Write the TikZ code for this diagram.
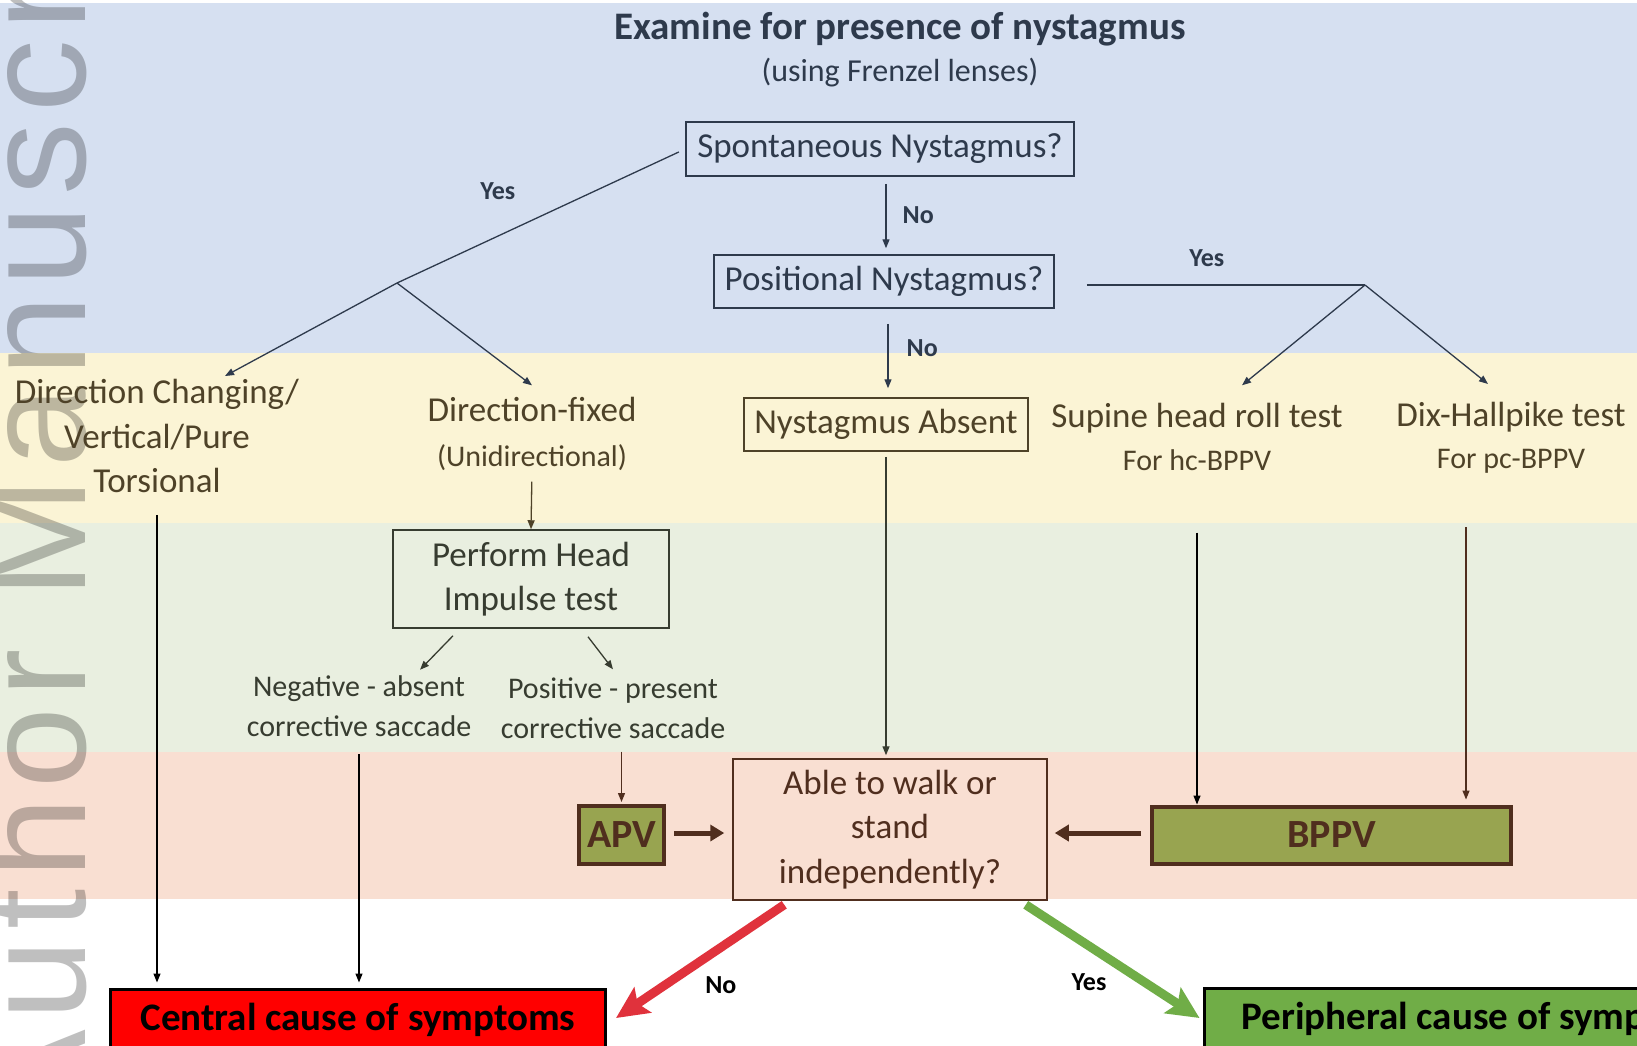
\documentclass[tikz,border=0pt]{standalone}
\usepackage{fontspec}
\setmainfont{Carlito}
\newfontfamily\wmfont[LetterSpace=7]{Liberation Sans}
\usetikzlibrary{arrows.meta}

\definecolor{bandblue}{RGB}{214,224,241}
\definecolor{bandyellow}{RGB}{251,244,213}
\definecolor{bandgreen}{RGB}{233,239,224}
\definecolor{bandpink}{RGB}{249,223,210}
\definecolor{slate}{RGB}{46,58,76}
\definecolor{umber}{RGB}{78,66,40}
\definecolor{moss}{RGB}{55,60,48}
\definecolor{darkbrown}{RGB}{80,46,30}
\definecolor{apvgreen}{RGB}{152,164,80}
\definecolor{stopred}{RGB}{224,50,60}
\definecolor{gogreen}{RGB}{112,173,71}

\begin{document}
\begin{tikzpicture}[x=1pt, y=1pt,
  lbl/.style={inner sep=0pt, align=center},
  big/.style={font=\fontsize{35}{44.5}\selectfont},
  sub/.style={font=\fontsize{30}{40}\selectfont},
  yn/.style={inner sep=0pt, font=\bfseries\fontsize{26}{30}\selectfont},
  qbox/.style={draw, line width=1.5pt, inner sep=0pt, align=center, big},
  dxbox/.style={draw=darkbrown, line width=4pt, fill=apvgreen, text=darkbrown, inner sep=0pt, font=\bfseries\fontsize{40}{48}\selectfont},
  endbox/.style={draw=black, line width=3pt, text=black, inner sep=0pt, font=\bfseries\fontsize{39}{47}\selectfont},
  arr/.style={line width=1.3pt, -{Triangle[length=9pt,width=7pt]}},
  fat/.style={darkbrown, line width=5pt, -{Triangle[length=14pt,width=16pt]}},
  verdict/.style={line width=9pt, -{Stealth[length=32pt,width=30pt,inset=6pt]}}
]
\useasboundingbox (0,0) rectangle (1637,-1045);
\clip (0,0) rectangle (1637,-1045);

\fill[white] (0,0) rectangle (1637,-1045);
\fill[bandblue] (0,-3) rectangle (1637,-353);
\fill[bandyellow] (0,-353) rectangle (1637,-523);
\fill[bandgreen] (0,-523) rectangle (1637,-752);
\fill[bandpink] (0,-752) rectangle (1637,-899);

\node[rotate=90, anchor=base west, inner sep=0pt, text=black, opacity=0.25, font=\wmfont\fontsize{145}{145}\selectfont] (wm) at (85,-1127) {Author Manuscript};

\node[lbl, text=slate, font=\bfseries\fontsize{39}{47}\selectfont] (title) at (900,-29) {Examine for presence of nystagmus};
\node[lbl, text=slate, font=\fontsize{32}{38}\selectfont] (subtitle) at (900,-73) {(using Frenzel lenses)};

\node[qbox, slate, minimum width=388pt, minimum height=54pt] (spont) at (880,-149) {\raisebox{-2pt}{Spontaneous Nystagmus?}};
\node[qbox, slate, minimum width=340pt, minimum height=53pt] (posit) at (884,-281.5) {Positional Nystagmus?};
\node[qbox, umber, minimum width=284pt, minimum height=53pt] (absent) at (886,-424.5) {Nystagmus Absent};

\node[lbl, big, text=umber] (dirchg) at (157,-436) {Direction Changing/\\Vertical/Pure\\Torsional};
\node[lbl, big, text=umber] (dirfix) at (532,-434) {Direction-fixed\\{\fontsize{30}{36}\selectfont (Unidirectional)}};
\node[lbl, big, text=umber] (supine) at (1197,-437) {Supine head roll test\\[-2pt]{\fontsize{30}{36}\selectfont For hc-BPPV}};
\node[lbl, big, text=umber] (dix) at (1511,-438) {Dix-Hallpike test\\[-2pt]{\fontsize{30}{36}\selectfont For pc-BPPV}};

\node[qbox, moss, minimum width=276pt, minimum height=98pt] (hit) at (531,-579) {Perform Head\\Impulse test};
\node[lbl, sub, text=moss] (neg) at (359,-706.5) {Negative - absent\\corrective saccade};
\node[lbl, sub, text=moss] (pos) at (613,-708) {Positive - present\\corrective saccade};

\node[dxbox, minimum width=85pt, minimum height=58pt] (apv) at (621.5,-835) {APV};
\node[qbox, draw=darkbrown, fill=bandpink, text=darkbrown, minimum width=314pt, minimum height=141pt] (able) at (890,-829.5) {Able to walk or\\stand\\independently?};
\node[dxbox, minimum width=359pt, minimum height=57pt] (bppv) at (1331.5,-835) {BPPV};

\node[endbox, fill=red, minimum width=495pt, minimum height=62pt] (central) at (358,-1020) {Central cause of symptoms};
\node[endbox, fill=gogreen, minimum width=560pt, minimum height=62pt] (periph) at (1484,-1019) {Peripheral cause of symptoms};

\coordinate (splitL) at (397,-283);
\coordinate (splitR) at (1365,-285);

\path[line width=1.3pt, slate] (spont.west) edge[shorten <=7pt] node[yn, pos=0.65, above=36pt] {Yes} (splitL);
\path[arr, slate] (splitL) edge ([xshift=68pt,yshift=3pt]dirchg.north);
\path[arr, slate] (splitL) edge ([yshift=12pt]dirfix.north);
\path[arr, slate] ([xshift=6pt]spont.south) edge[shorten <=7pt, shorten >=6pt] node[yn, right=16pt] {No} ([xshift=2pt]posit.north);
\path[arr, slate] ([xshift=4pt]posit.south) edge[shorten <=15pt, shorten >=9pt] node[yn, pos=0.45, right=18pt] {No} ([xshift=2pt]absent.north);
\path[line width=1.5pt, slate] (posit.east |- splitR) edge[shorten <=32pt] node[yn, pos=0.49, above=18pt] {Yes} (splitR);
\path[arr, slate] (splitR) edge ([xshift=45pt,yshift=18pt]supine.north);
\path[arr, slate] (splitR) edge ([xshift=-23pt,yshift=18pt]dix.north);

\path[arr, umber] (dirfix.south) edge[shorten <=11pt] (hit.north);
\path[arr, moss] ([xshift=-78pt,yshift=-7pt]hit.south) edge ([xshift=61pt,yshift=6pt]neg.north);
\path[arr, moss] ([xshift=57pt,yshift=-8pt]hit.south) edge ([yshift=8pt]pos.north);

\path[arr, black] (dirchg.south) edge[shorten <=22pt, shorten >=5pt] (dirchg.south |- central.north);
\path[arr, black] (neg.south) edge[shorten <=17pt, shorten >=5pt] (neg.south |- central.north);
\path[arr, darkbrown] (apv.north |- pos.south) edge[shorten <=13pt, shorten >=2pt] (apv.north);
\path[arr, moss] (absent.south) edge[shorten <=5pt, shorten >=3pt] (absent.south |- able.north);
\path[arr, black] (supine.south) edge[shorten <=62pt, shorten >=0pt] (supine.south |- bppv.north);
\path[arr, darkbrown] ([xshift=-45pt]dix.south) edge[shorten <=53pt, shorten >=5pt] ([xshift=-45pt]dix.south |- bppv.north);

\path[fat] ([yshift=2pt]apv.east) edge[shorten <=8pt, shorten >=8pt] ([yshift=2pt]apv.east -| able.west);
\path[fat] ([yshift=2pt]bppv.west) edge[shorten <=9pt, shorten >=7pt] ([yshift=2pt]bppv.west -| able.east);

\path[verdict, stopred] ([xshift=52pt,yshift=-4pt]able.south west) edge node[yn, text=black, pos=0.71, right=36pt] {No} ([xshift=9pt,yshift=2pt]central.east);
\path[verdict, gogreen] ([xshift=-22pt,yshift=-4pt]able.south east) edge node[yn, text=black, pos=0.68, left=33pt] {Yes} ([xshift=-3pt,yshift=1pt]periph.west);
\end{tikzpicture}
\end{document}
